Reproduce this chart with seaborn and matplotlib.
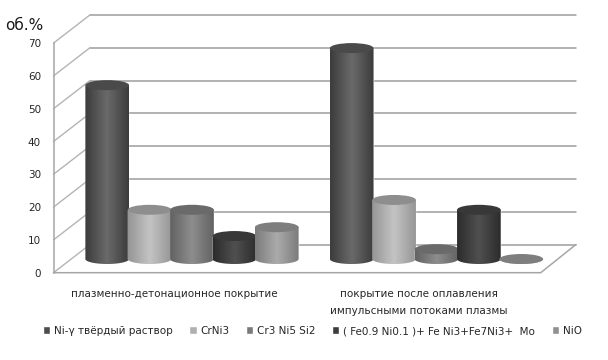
import numpy as np
import pandas as pd
import matplotlib
matplotlib.use("Agg")
import matplotlib.pyplot as plt
from matplotlib.colors import LinearSegmentedColormap, to_rgb
from matplotlib.patches import Ellipse, Polygon
import seaborn as sns

categories = ["плазменно-детонационное покрытие",
              "покрытие после оплавления\nимпульсными потоками плазмы"]
series = ["Ni-γ твёрдый раствор", "CrNi3", "Cr3 Ni5 Si2",
          "( Fe0.9 Ni0.1 )+ Fe Ni3+Fe7Ni3+  Mo", "NiO"]
ni_gamma = [53, 64.3]
crni3 = [15, 18]
cr3ni5si2 = [15, 3]
fe_mix = [7, 15]
nio = [9.7, 0]
y_ticks = [0, 10, 20, 30, 40, 50, 60, 70]

edge_cols = ["#3c3c3c", "#969696", "#626262", "#2c2c2c", "#7c7c7c"]
mid_cols = ["#6a6a6a", "#c4c4c4", "#8e8e8e", "#505050", "#ababab"]
top_cols = ["#4a4a4a", "#8e8e8e", "#6a6a6a", "#383838", "#7e7e7e"]
legend_cols = ["#4d4d4d", "#b0b0b0", "#7a7a7a", "#3c3c3c", "#909090"]

W, H = 608, 360
PX_X = 244.5      # pixels per category
PX_Y = 3.28       # pixels per value unit
FRONT_L, BACK_R, FRONT_B, BACK_T = 53.5, 576, 272.7, 15.5
CENTER0, BASE = 192, 259

sns.set_theme(style="white")
plt.rcParams["font.family"] = ["DejaVu Sans"]
fig = plt.figure(figsize=(W / 100, H / 100), dpi=100)
ax = fig.add_axes([FRONT_L / W, 1 - FRONT_B / H, (BACK_R - FRONT_L) / W, (FRONT_B - BACK_T) / H])

df = pd.DataFrame({"cat": np.repeat(categories, len(series)),
                   "ser": series * len(categories),
                   "val": np.array([ni_gamma, crni3, cr3ni5si2, fe_mix, nio]).T.ravel()})
sns.barplot(data=df, x="cat", y="val", hue="ser", hue_order=series, order=categories,
            palette=legend_cols, width=0.867, gap=0, saturation=1, ax=ax, legend=True, clip_on=False)

x0 = (FRONT_L - CENTER0) / PX_X
x1 = (BACK_R - CENTER0) / PX_X
y0 = (BASE - FRONT_B) / PX_Y
y1 = (BASE - BACK_T) / PX_Y
dx = 36.5 / PX_X                  # depth offset of the back wall
back = (BASE - 244.5) / PX_Y      # value offset of the back wall
front = y0
front_r = (540.7 - CENTER0) / PX_X

line_col = "#a6a6a6"
for v in y_ticks:
    ax.plot([x0 + dx, x1], [v + back] * 2, color="#9c9c9c", lw=1.1, zorder=0.5, clip_on=False)
    ax.plot([x0, x0 + dx], [v + front, v + back], color="#b4b4b4", lw=1.0, zorder=0.5, clip_on=False)
ax.plot([x0, front_r, x1], [front, front, back], color=line_col, lw=1.1, zorder=0.6, clip_on=False)

# cylinders from the bars the library placed
ell_h = 10 / PX_Y
palette_rgb = [to_rgb(c) for c in legend_cols]
bars = [p for p in ax.patches if p.get_width() > 0]
bars = sorted(bars, key=lambda q: q.get_x())
for z, p in enumerate(bars):
    s = palette_rgb.index(tuple(p.get_facecolor()[:3]))
    xa, w, h = p.get_x(), p.get_width(), p.get_height()
    grow = w * 0.03
    xa -= grow / 2
    w += grow
    zo = 2 + z * 0.1
    p.set_zorder(zo)
    p.set_clip_on(False)
    t = np.linspace(np.pi, 2 * np.pi, 40)
    xs = xa + w / 2 + w / 2 * np.cos(t)
    ys = ell_h / 2 * np.sin(t)
    poly = np.vstack([np.c_[xs, ys], [xa + w, h], [xa, h]])
    clip = Polygon(poly, closed=True, transform=ax.transData, facecolor="none", edgecolor="none")
    ax.add_patch(clip)
    cmap = LinearSegmentedColormap.from_list("c", [edge_cols[s], mid_cols[s], edge_cols[s]])
    im = ax.imshow(np.linspace(0, 1, 64)[None, :], cmap=cmap, aspect="auto",
                   extent=[xa, xa + w, -ell_h / 2, h], zorder=zo + 0.01)
    im.set_clip_path(clip)
    ax.add_patch(Ellipse((xa + w / 2, h), w, ell_h, facecolor=top_cols[s], edgecolor="none",
                         zorder=zo + 0.02, clip_on=False))

ax.set_xlim(x0, x1)
ax.set_ylim(y0, y1)
ax.set_xlabel("")
ax.set_ylabel("")

label_shift = -18 / PX_X
ax.set_xticks([k + label_shift for k in range(len(categories))], categories,
              fontsize=7.5, color="#262626", linespacing=1.85)
ax.set_yticks([v + front for v in y_ticks], [str(v) for v in y_ticks], fontsize=7.5, color="#262626")
ax.tick_params(axis="x", length=0, pad=12)
ax.tick_params(axis="y", length=0, pad=9)

for side in ["top", "right", "bottom"]:
    ax.spines[side].set_visible(False)
ax.spines["left"].set_color(line_col)
ax.spines["left"].set_linewidth(1.1)
ax.spines["left"].set_bounds(front, 70 + front)
ax.patch.set_alpha(0)

handles, labels = ax.get_legend_handles_labels()
ax.legend(handles, labels, ncol=5, frameon=False, fontsize=7.5, loc="center left",
          bbox_to_anchor=(43 / W, 1 - 331 / H), bbox_transform=fig.transFigure,
          handlelength=0.7, handleheight=0.8, handletextpad=0.35, columnspacing=1.6,
          borderpad=0, borderaxespad=0, labelcolor="#262626")

fig.text(5 / W, 1 - 26 / H, "об.%", fontsize=11, color="#1a1a1a", va="center", ha="left")

fig.savefig("out.png", dpi=100, facecolor="white")
